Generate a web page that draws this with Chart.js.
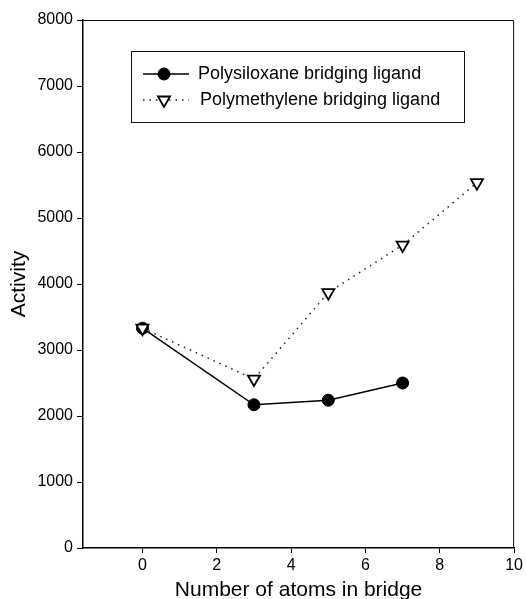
<!DOCTYPE html>
<html>
<head>
<meta charset="utf-8">
<script src="https://cdn.jsdelivr.net/npm/chart.js@4/dist/chart.umd.min.js"></script>
<style>
  html, body { margin: 0; padding: 0; background: #fff; }
  #c { display: block; }
</style>
</head>
<body>
<canvas id="c" width="526" height="599"></canvas>
<script>
// ---- data ----
const seriesNames = ["Polysiloxane bridging ligand", "Polymethylene bridging ligand"];
const siloxaneX = [0, 3, 5, 7];
const siloxaneY = [3330, 2170, 2240, 2500];
const methyleneX = [0, 3, 5, 7, 9];
const methyleneY = [3330, 2560, 3870, 4590, 5535];
const xTicks = [0, 2, 4, 6, 8, 10];
const yTicks = [0, 1000, 2000, 3000, 4000, 5000, 6000, 7000, 8000];
const xTitle = "Number of atoms in bridge";
const yTitle = "Activity";

const FONT = "'Liberation Sans', Arial, Helvetica, sans-serif";

const toPts = (xs, ys) => xs.map((x, i) => ({ x: x, y: ys[i] }));

const framePlugin = {
  id: 'frame',
  afterDraw(chart) {
    const { ctx, chartArea: a } = chart;
    ctx.save();
    ctx.strokeStyle = '#111';
    ctx.lineWidth = 1;
    ctx.beginPath();
    ctx.moveTo(a.left, a.top + 0.5);
    ctx.lineTo(a.right - 0.5, a.top + 0.5);
    ctx.lineTo(a.right - 0.5, a.bottom);
    ctx.stroke();
    ctx.restore();
  }
};

const legendPlugin = {
  id: 'boxLegend',
  afterDraw(chart) {
    const { ctx } = chart;
    const bx = 131, by = 51, bw = 333, bh = 71;
    ctx.save();
    ctx.fillStyle = '#fff';
    ctx.fillRect(bx, by, bw, bh);
    ctx.strokeStyle = '#111';
    ctx.lineWidth = 1;
    ctx.strokeRect(bx + 0.5, by + 0.5, bw, bh);
    const rows = [74, 100];
    chart.data.datasets.forEach((ds, i) => {
      const y = rows[i];
      ctx.save();
      ctx.strokeStyle = ds.borderColor;
      ctx.lineWidth = ds.borderWidth;
      ctx.setLineDash(ds.borderDash || []);
      ctx.beginPath();
      ctx.moveTo(143, y);
      ctx.lineTo(189, y);
      ctx.stroke();
      ctx.restore();
      ctx.save();
      ctx.fillStyle = ds.pointBackgroundColor;
      ctx.strokeStyle = ds.pointBorderColor;
      ctx.lineWidth = ds.pointBorderWidth;
      Chart.helpers.drawPoint(ctx, {
        pointStyle: ds.pointStyle,
        rotation: ds.pointRotation || 0,
        radius: ds.pointRadius,
        borderWidth: ds.pointBorderWidth
      }, 164, y);
      ctx.restore();
      ctx.fillStyle = '#000';
      ctx.font = '18px ' + FONT;
      ctx.textBaseline = 'middle';
      ctx.textAlign = 'left';
      ctx.fillText(ds.label, i === 0 ? 198 : 200, y);
    });
    ctx.restore();
  }
};

const chart = new Chart(document.getElementById('c'), {
  type: 'scatter',
  data: {
    datasets: [
      {
        label: seriesNames[0],
        data: toPts(siloxaneX, siloxaneY),
        order: 1,
        showLine: true,
        borderColor: '#000',
        borderWidth: 1.5,
        pointStyle: 'circle',
        pointRadius: 6,
        pointBackgroundColor: '#000',
        pointBorderColor: '#000',
        pointBorderWidth: 1
      },
      {
        label: seriesNames[1],
        data: toPts(methyleneX, methyleneY),
        order: 0,
        showLine: true,
        borderColor: '#222',
        borderWidth: 1.5,
        borderDash: [1.5, 5],
        pointStyle: 'triangle',
        pointRotation: 180,
        pointRadius: 7,
        pointBackgroundColor: '#fff',
        pointBorderColor: '#000',
        pointBorderWidth: 1.8
      }
    ]
  },
  options: {
    responsive: false,
    animation: false,
    layout: { padding: { left: 0, right: 9, top: 20, bottom: 0 } },
    plugins: {
      legend: { display: false },
      tooltip: { enabled: false }
    },
    scales: {
      x: {
        type: 'linear',
        min: -1.6,
        max: 10,
        afterBuildTicks(s) { s.ticks = xTicks.map(v => ({ value: v })); },
        afterFit(s) { s.height = 51; },
        grid: { display: true, drawOnChartArea: false, drawTicks: true, tickLength: 5, color: '#000', lineWidth: 1 },
        border: { display: true, color: '#000', width: 1.5 },
        ticks: { color: '#000', font: { family: FONT, size: 16 }, padding: 3, maxRotation: 0, callback: v => String(v) },
        title: { display: true, text: xTitle, color: '#000', font: { family: FONT, size: 21, lineHeight: 0.8 }, padding: { top: 0, bottom: 0 } }
      },
      y: {
        type: 'linear',
        min: 0,
        max: 8000,
        afterBuildTicks(s) { s.ticks = yTicks.map(v => ({ value: v })); },
        afterFit(s) { s.width = 83; },
        grid: { display: true, drawOnChartArea: false, drawTicks: true, tickLength: 6, color: '#000', lineWidth: 1 },
        border: { display: true, color: '#000', width: 1.5 },
        ticks: { color: '#000', font: { family: FONT, size: 16 }, padding: 4, callback: v => String(v) },
        title: { display: true, text: yTitle, color: '#000', font: { family: FONT, size: 21, lineHeight: 1.2 }, padding: { top: 7, bottom: 0 } }
      }
    }
  },
  plugins: [framePlugin, legendPlugin]
});
</script>
</body>
</html>
